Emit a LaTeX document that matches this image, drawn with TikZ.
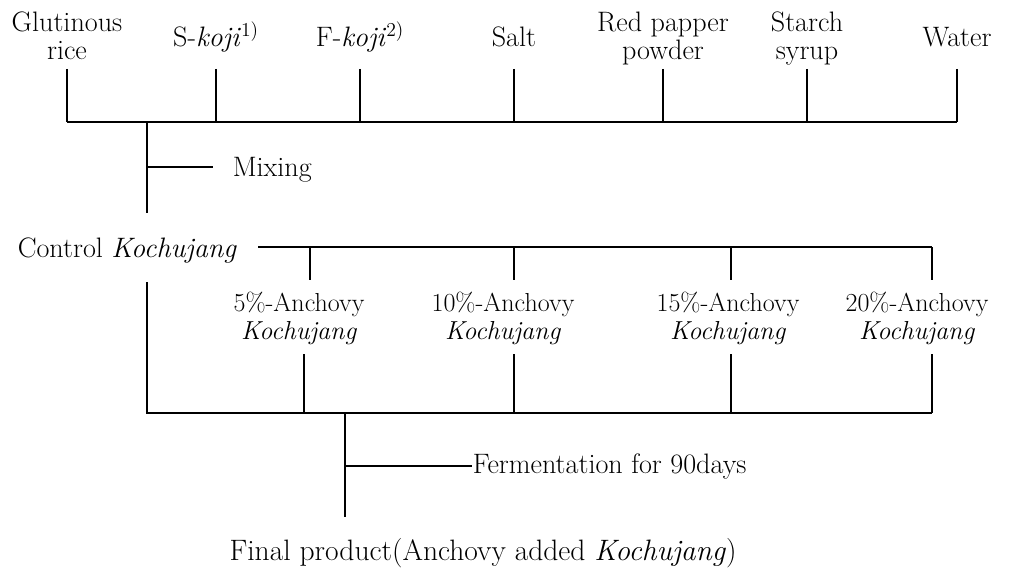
\documentclass[tikz,border=0pt]{standalone}
\usetikzlibrary{positioning}

\begin{document}
\begin{tikzpicture}[
x=0.025cm, y=-0.025cm,
every node/.style = {inner sep=0pt, align=center, font=\fontsize{20}{20}\selectfont},
anchovy/.style = {anchor=base, font=\fontsize{18.5}{19.5}\selectfont},
every path/.style = {line width=1.1pt}
                        ]
\useasboundingbox (0,0) rectangle (1025,571);
% ingredients
\node (rice)   [anchor=base] at (67,60)  {Glutinous\\rice};
\node (skoji)  [anchor=base] at (216,47) {S-\textit{koji}\textsuperscript{1)}};
\node (fkoji)  [anchor=base] at (360,47) {F-\textit{koji}\textsuperscript{2)}};
\node (salt)   [anchor=base] at (514,47) {Salt};
\node (pepper) [anchor=base] at (663,60) {Red papper\\powder};
\node (syrup)  [anchor=base] at (807,60) {Starch\\syrup};
\node (water)  [anchor=base] at (957,47) {Water};

\coordinate (barL) at (67,122);
\coordinate (barR) at (957,122);
\draw (barL) -- (barR);
\foreach \n in {rice,skoji,fkoji,salt,pepper,syrup,water}
    \draw (\n.south |- 0,69) -- (\n.south |- barL);

% mixing
\coordinate (mixJ) at (147,122);
\coordinate (mixE) at (147,213);
\coordinate (mixT) at (147,167);
\node (mixing) [anchor=base west] at (232,177) {Mixing};
\draw (mixJ) -- (mixE);
\draw (mixT) -- ++(66,0);

% control
\node (control) [anchor=base west] at (17,257) {Control \textit{Kochujang}};
\coordinate (ctlL) at (258,247);
\coordinate (ctlR) at (932,247);
\draw (ctlL) -- (ctlR);

\node (a5)  [anchovy] at (299,339) {5\%-Anchovy\\\textit{Kochujang}};
\node (a10) [anchovy] at (503,339) {10\%-Anchovy\\\textit{Kochujang}};
\node (a15) [anchovy] at (728,339) {15\%-Anchovy\\\textit{Kochujang}};
\node (a20) [anchovy] at (917,339) {20\%-Anchovy\\\textit{Kochujang}};

\foreach \up/\dn in {310/304, 514/514, 731/731, 932/932}{
    \draw (\up,247) -- (\up,280);
    \draw (\dn,354) -- (\dn,413);
}

% fermentation
\coordinate (fbL) at (147,413);
\coordinate (fbR) at (932,413);
\draw (147,282) -- (fbL) -- (fbR);
\coordinate (ferJ) at (345,413);
\coordinate (ferE) at (345,517);
\coordinate (ferT) at (345,466);
\node (ferment) [anchor=base west] at (472,473) {Fermentation for 90days};
\draw (ferJ) -- (ferE);
\draw (ferT) -- (ferment.west |- ferT);

\node (final) [anchor=base, font=\fontsize{21}{21}\selectfont] at (483,560) {Final product(Anchovy added \textit{Kochujang})};
\end{tikzpicture}
\end{document}
